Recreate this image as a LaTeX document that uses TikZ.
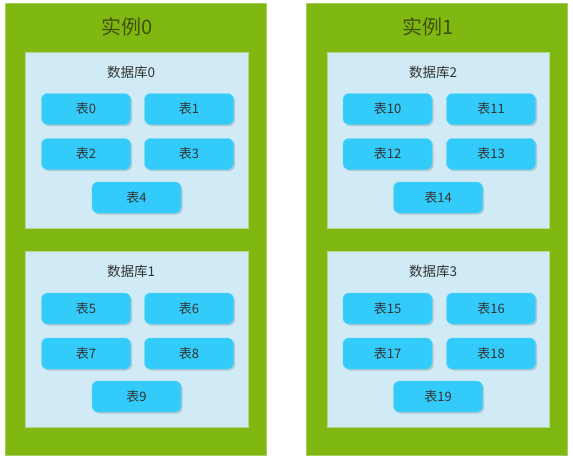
\documentclass[tikz,border=0pt]{standalone}
\usepackage{fontspec}
\setmainfont{Noto Sans CJK SC}
\usetikzlibrary{shadows}
\definecolor{instgreen}{HTML}{80B812}
\definecolor{instedge}{HTML}{A6CD5A}
\definecolor{dbblue}{HTML}{D0EBF5}
\definecolor{dbedge}{HTML}{B5D88A}
\definecolor{tblcyan}{HTML}{33CBF9}
\definecolor{tbledge}{HTML}{5FD3F5}
\definecolor{txtgray}{HTML}{333333}
\definecolor{titlecol}{HTML}{3F5008}
\tikzset{
  instbox/.style={draw=instedge, fill=instgreen, line width=0.8pt},
  dbbox/.style={draw=dbedge, fill=dbblue, line width=0.8pt},
  tblbox/.style={draw=tbledge, fill=tblcyan, rounded corners=6pt, minimum width=89pt, minimum height=31pt, inner sep=0pt,
    drop shadow={shadow xshift=1.5pt, shadow yshift=-1.5pt, fill=black, opacity=0.15},
    text=txtgray, font=\fontsize{13}{15}\selectfont},
  titletxt/.style={text=titlecol, font=\fontsize{20}{24}\selectfont},
  dbtxt/.style={text=txtgray, font=\fontsize{13.5}{16}\selectfont},
}
\begin{document}
\begin{tikzpicture}[x=1pt,y=-1pt]
\useasboundingbox (0,0) rectangle (573,458);
% instances
\draw[instbox] (5,3) rectangle (266,455);
\draw[instbox] (306,3) rectangle (567,455);
\node[titletxt] (inst0) at (127,27) {实例0};
\node[titletxt] (inst1) at (428,27) {实例1};
% databases
\draw[dbbox] (25,52) rectangle (248,228);
\draw[dbbox] (25,251) rectangle (248,427);
\draw[dbbox] (327,52) rectangle (549,228);
\draw[dbbox] (327,251) rectangle (549,427);
\node[dbtxt] (db0) at (131,72) {数据库0};
\node[dbtxt] (db1) at (131,271) {数据库1};
\node[dbtxt] (db2) at (433,72) {数据库2};
\node[dbtxt] (db3) at (433,271) {数据库3};
% tables db0
\node[tblbox] (t0) at (86,109) {表0};
\node[tblbox] (t1) at (189,109) {表1};
\node[tblbox] (t2) at (86,154) {表2};
\node[tblbox] (t3) at (189,154) {表3};
\node[tblbox] (t4) at (136.5,197.5) {表4};
% tables db1
\node[tblbox] (t5) at (86,308.5) {表5};
\node[tblbox] (t6) at (189,308.5) {表6};
\node[tblbox] (t7) at (86,353.5) {表7};
\node[tblbox] (t8) at (189,353.5) {表8};
\node[tblbox] (t9) at (136.5,396.5) {表9};
% tables db2
\node[tblbox] (t10) at (387.5,109) {表10};
\node[tblbox] (t11) at (491,109) {表11};
\node[tblbox] (t12) at (387.5,154) {表12};
\node[tblbox] (t13) at (491,154) {表13};
\node[tblbox] (t14) at (438,197.5) {表14};
% tables db3
\node[tblbox] (t15) at (387.5,308.5) {表15};
\node[tblbox] (t16) at (491,308.5) {表16};
\node[tblbox] (t17) at (387.5,353.5) {表17};
\node[tblbox] (t18) at (491,353.5) {表18};
\node[tblbox] (t19) at (438,396.5) {表19};
\end{tikzpicture}
\end{document}
